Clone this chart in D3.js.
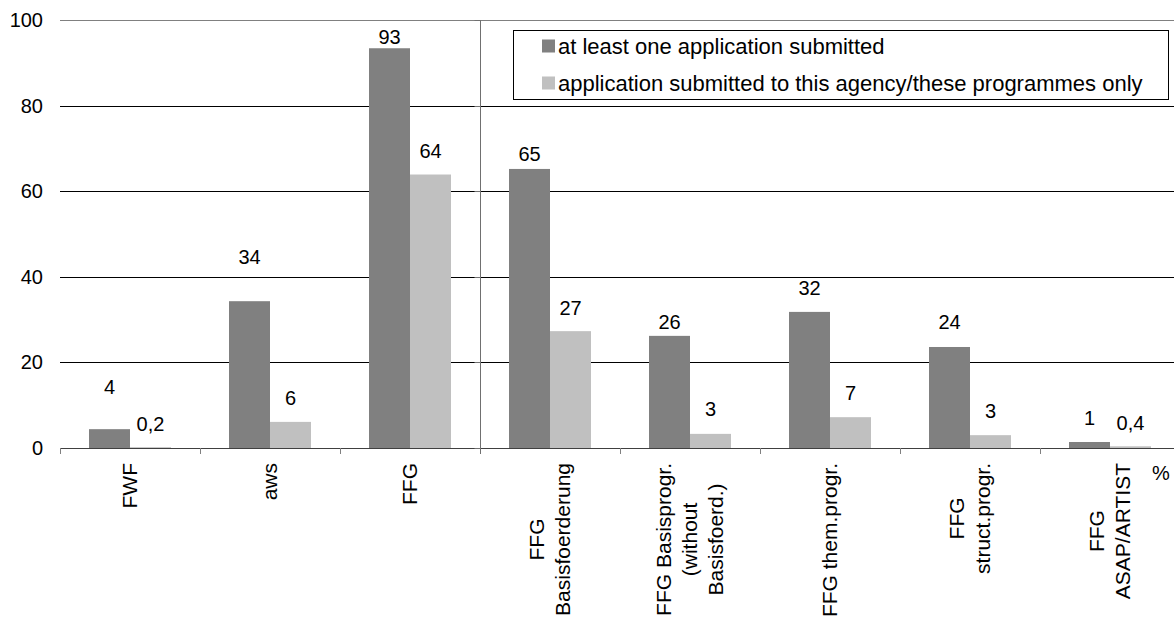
<!DOCTYPE html>
<html><head><meta charset="utf-8">
<script src="https://cdn.jsdelivr.net/npm/d3@7"></script>
<style>body{margin:0;background:#fff;overflow:hidden} text{font-family:"Liberation Sans",Arial,sans-serif;fill:#000}</style>
</head><body><svg id="c" width="1174" height="625"></svg>
<script>
// ---------- data ----------
const categories = ["FWF","aws","FFG","FFG Basisfoerderung","FFG Basisprogr. (without Basisfoerd.)","FFG them.progr.","FFG struct.progr.","FFG ASAP/ARTIST"];
const categoryLines = [["FWF"],["aws"],["FFG"],["FFG","Basisfoerderung"],["FFG Basisprogr.","(without","Basisfoerd.)"],["FFG them.progr."],["FFG","struct.progr."],["FFG","ASAP/ARTIST"]];
const seriesNames = ["at least one application submitted","application submitted to this agency/these programmes only"];
const atLeastOne = [4.4,34.3,93.4,65.2,26.2,31.8,23.6,1.4];
const thisOnly = [0.2,6.1,63.9,27.3,3.3,7.2,3.0,0.4];
const yTicks = [0,20,40,60,80,100];
const unitLabel = "%";

// ---------- layout / style ----------
const W = 1174, H = 625;
const colors = ["#808080","#c0c0c0"];
const labelLift = [[42,44,11,15,14,24,25,24],[23,24,24,23,25,24,24,23]];
const fontSize = 20, catFont = 21, legendFont = 22;

const svg = d3.select("#c");
const x = d3.scaleBand().domain(categories).range([60,1180]).padding(0);
const xs = d3.scaleBand().domain([0,1]).range([29,111]).padding(0);
const y = d3.scaleLinear().domain([0,100]).range([448,20]);

const series = [atLeastOne, thisOnly];
const fmt = v => v < 1 ? String(v).replace(".", ",") : String(Math.round(v));

// gridlines
svg.append("g").selectAll("line").data(yTicks.filter(t=>t>0)).join("line")
  .attr("x1",60).attr("x2",W).attr("y1",d=>Math.round(y(d))+0.5).attr("y2",d=>Math.round(y(d))+0.5)
  .attr("stroke",d=>d===100?"#808080":"#000").attr("stroke-width",1);

// y tick labels
svg.append("g").selectAll("text").data(yTicks).join("text")
  .attr("x",43).attr("y",d=>y(d)).attr("dy","0.35em").attr("text-anchor","end")
  .style("font-size",fontSize+"px").text(d=>d);

// bars
series.forEach((vals,s)=>{
  svg.append("g").selectAll("rect").data(vals).join("rect")
    .attr("x",(d,i)=>x(categories[i])+xs(s)).attr("width",xs.bandwidth())
    .attr("y",d=>y(d)).attr("height",d=>y(0)-y(d)).attr("fill",colors[s]);
});

// x axis line + ticks
svg.append("line").attr("x1",60).attr("x2",W).attr("y1",448.5).attr("y2",448.5).attr("stroke","#404040");
svg.append("g").selectAll("line").data(categories).join("line")
  .attr("x1",d=>Math.round(x(d))+0.5).attr("x2",d=>Math.round(x(d))+0.5)
  .attr("y1",448).attr("y2",454).attr("stroke","#808080");

// secondary vertical axis at 4th category
const vx = Math.round(x(categories[3]))+0.5;
svg.append("line").attr("x1",vx).attr("x2",vx).attr("y1",y(100)).attr("y2",454).attr("stroke","#707070");
svg.append("g").selectAll("line").data(yTicks).join("line")
  .attr("x1",vx-6).attr("x2",vx).attr("y1",d=>Math.round(y(d))+0.5).attr("y2",d=>Math.round(y(d))+0.5)
  .attr("stroke","#707070");

// value labels
series.forEach((vals,s)=>{
  svg.append("g").selectAll("text").data(vals).join("text")
    .attr("x",(d,i)=>x(categories[i])+xs(s)+xs.bandwidth()/2)
    .attr("y",(d,i)=>y(d)-labelLift[s][i]).attr("dy","0.35em")
    .attr("text-anchor","middle").style("font-size",fontSize+"px").text(fmt);
});

// category labels (rotated)
const pitch = 26;
categoryLines.forEach((lines,i)=>{
  const cx = x(categories[i]) + x.bandwidth()/2;
  const g = svg.append("g");
  const ts = lines.map((l,j)=> g.append("text").style("font-size",catFont+"px").attr("text-anchor","middle").text(l));
  const maxLen = d3.max(ts, t=>t.node().getComputedTextLength());
  const cy = 463 + maxLen/2;
  ts.forEach((t,j)=>{
    const bx = cx + (j-(lines.length-1)/2)*pitch + 7;
    t.attr("transform",`translate(${bx},${cy}) rotate(-90)`);
  });
});

// unit label
svg.append("text").attr("x",1161).attr("y",480).attr("text-anchor","middle").style("font-size",fontSize+"px").text(unitLabel);

// legend
const lg = svg.append("g");
lg.append("rect").attr("x",513.5).attr("y",30.5).attr("width",655).attr("height",69).attr("fill","#fff").attr("stroke","#000");
const rowsY = [46,83];
seriesNames.forEach((n,s)=>{
  lg.append("rect").attr("x",542).attr("y",rowsY[s]-6.5).attr("width",13).attr("height",13).attr("fill",colors[s]);
  lg.append("text").attr("x",558).attr("y",rowsY[s]).attr("dy","0.35em").style("font-size",legendFont+"px").text(n);
});
</script></body></html>
